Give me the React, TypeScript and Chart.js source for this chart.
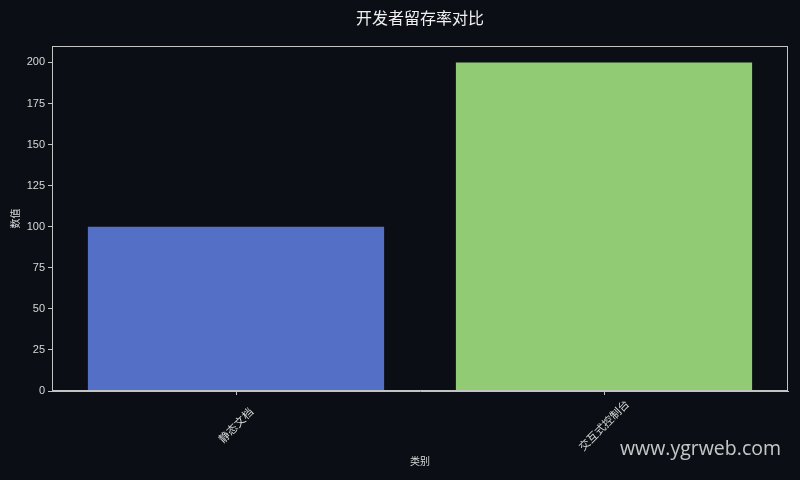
import React, { useEffect, useRef } from "react";
import { Chart, registerables } from "chart.js";

Chart.register(...registerables);

const categories = ["静态文档", "交互式控制台"];
const values = [100, 200];
const barColors = ["#5470c6", "#91cc75"];
const titleText = "开发者留存率对比";
const yTitle = "数值";
const xTitle = "类别";
const watermark = "www.ygrweb.com";

const BG = "#0b0e14";
const FG = "#d8d8d8";
const FRAME = "#c4c4c4";
const FONT = "'Liberation Sans', 'Noto Sans CJK SC', sans-serif";

const maxLen = Math.max(...categories.map((c) => c.length));

export default function App() {
  const ref = useRef<HTMLCanvasElement | null>(null);

  useEffect(() => {
    if (!ref.current) return;
    const decor = {
      id: "decor",
      beforeDraw(chart: any) {
        const { ctx, width, height } = chart;
        ctx.save();
        ctx.fillStyle = BG;
        ctx.fillRect(0, 0, width, height);
        ctx.restore();
      },
      afterDraw(chart: any) {
        const { ctx, chartArea } = chart;
        ctx.save();
        ctx.strokeStyle = FRAME;
        ctx.lineWidth = 1;
        ctx.strokeRect(
          chartArea.left + 0.5,
          chartArea.top + 0.5,
          chartArea.right - chartArea.left - 1,
          chartArea.bottom - chartArea.top - 1
        );
        ctx.fillStyle = "#f0f0f0";
        ctx.font = `16px 'Noto Sans CJK SC', sans-serif`;
        ctx.textAlign = "center";
        ctx.textBaseline = "middle";
        ctx.fillText(titleText, (chartArea.left + chartArea.right) / 2, 18);
        ctx.fillStyle = "rgba(230,230,230,0.85)";
        ctx.font = `19.5px 'Open Sans', 'Noto Sans', sans-serif`;
        ctx.textAlign = "right";
        ctx.textBaseline = "alphabetic";
        ctx.fillText(watermark, 781, 455);
        ctx.restore();
      },
    };

    const chart = new Chart(ref.current, {
      type: "bar",
      data: {
        labels: categories,
        datasets: [
          {
            data: values,
            backgroundColor: barColors,
            borderWidth: 0,
            categoryPercentage: 1,
            barPercentage: 0.805,
          },
        ],
      },
      options: {
        animation: false,
        responsive: false,
        devicePixelRatio: 1,
        layout: { padding: { top: 46, left: 0, right: 12, bottom: 0 } },
        plugins: {
          legend: { display: false },
          title: { display: false },
          tooltip: { enabled: false },
        },
        scales: {
          x: {
            type: "category",
            offset: true,
            grid: {
              display: true,
              offset: false,
              drawOnChartArea: false,
              drawTicks: true,
              tickLength: 4,
              color: FRAME,
            },
            border: { display: true, color: FRAME },
            ticks: {
              color: FG,
              font: { size: 11, family: FONT },
              minRotation: 45,
              maxRotation: 45,
              labelOffset: 24,
              padding: 3,
              callback(this: any, value: any) {
                const label = String(this.getLabelForValue(value));
                const pad = Math.round((maxLen - label.length) / 2);
                return label + "\u3000".repeat(pad);
              },
            },
            title: {
              display: true,
              text: xTitle,
              color: FG,
              font: { size: 10, family: FONT },
              padding: { top: 0, bottom: 12 },
            },
            afterFit(scale: any) {
              scale.height = 89;
            },
          },
          y: {
            min: 0,
            max: 210,
            grid: {
              display: true,
              drawOnChartArea: false,
              drawTicks: true,
              tickLength: 4,
              color: FRAME,
            },
            border: { display: true, color: FRAME },
            ticks: {
              stepSize: 25,
              color: FG,
              font: { size: 11, family: FONT },
              padding: 3,
            },
            afterBuildTicks(scale: any) {
              scale.ticks = scale.ticks.filter((t: any) => t.value <= 200);
            },
            title: {
              display: true,
              text: yTitle,
              color: FG,
              font: { size: 10, family: FONT },
              padding: { top: 10, bottom: 0 },
            },
            afterFit(scale: any) {
              scale.width = 52;
            },
          },
        },
      },
      plugins: [decor],
    });
    return () => chart.destroy();
  }, []);

  return (
    <div style={{ position: "fixed", left: 0, top: 0, width: 800, height: 480, background: BG }}>
      <canvas ref={ref} width={800} height={480} style={{ display: "block" }} />
    </div>
  );
}
